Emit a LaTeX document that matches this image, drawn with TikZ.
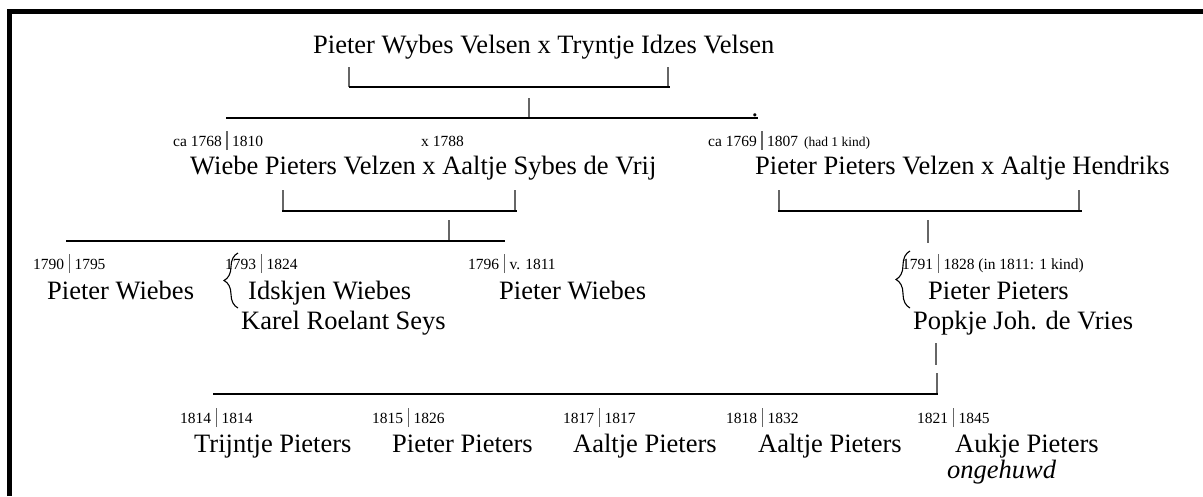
\documentclass[tikz,border=0pt]{standalone}
\usepackage{fontspec}
\setmainfont{Liberation Serif}
\usetikzlibrary{decorations.pathreplacing}

\definecolor{streepgrijs}{gray}{0.4}
% jaartallen met een staand streepje ertussen
\newcommand{\jaren}[2]{#1\hspace{4.5pt}\textcolor{streepgrijs}{\vrule width 1.3pt height 15pt depth 4pt}\hspace{4.5pt}#2}

\tikzset{
  naam/.style={anchor=base west, inner sep=0pt, font=\fontsize{26.5}{30}\selectfont},
  jaar/.style={anchor=base west, inner sep=0pt, font=\fontsize{15.5}{18}\selectfont},
  lijn/.style={line width=2.6pt},
  haakje/.style={streepgrijs, line width=1.3pt},
  accolade/.style={decorate, decoration={brace, amplitude=14pt}, line width=1.1pt},
}

\begin{document}
\begin{tikzpicture}[x=1pt, y=-1pt]

        \useasboundingbox (0,0) rectangle (1203,496);
        \draw[line width=5pt] (9.5,496) -- (9.5,11.5) -- (1203,11.5);

        % Stamouders
        \node[naam] (stam) at (313,53) {Pieter Wybes Velsen x Tryntje Idzes Velsen};
        \draw[haakje] (349,67) -- (349,87);
        \draw[haakje] (668,67) -- (668,87);
        \draw[lijn] (349,87) -- (670,87);
        \draw[haakje] (529,98) -- (529,118);
        \draw[lijn] (226,118) -- (758,118);
        \node[anchor=base, inner sep=0pt, font=\fontsize{26.5}{30}\selectfont] (punt) at (755,116) {.};

        % Tweede generatie
        \node[jaar] (wiebej) at (173,146) {\jaren{ca 1768}{1810}};
        \node[jaar] (huwelijk) at (421,146) {x 1788};
        \node[jaar] (pieterj) at (708,146) {\jaren{ca 1769}{1807}\hspace{6pt}{\fontsize{13.5}{16}\selectfont(had 1 kind)}};
        \node[naam] (wiebe) at (190,174) {Wiebe Pieters Velzen x Aaltje Sybes de Vrij};
        \node[naam] (pieter) at (755,174) {Pieter Pieters Velzen x Aaltje Hendriks};

        \draw[haakje] (283,190) -- (283,211);
        \draw[haakje] (515,190) -- (515,211);
        \draw[lijn] (282,211) -- (517,211);
        \draw[haakje] (449,220) -- (449,241);
        \draw[lijn] (66,241) -- (505,241);

        \draw[haakje] (779,190) -- (779,211);
        \draw[haakje] (1079,190) -- (1079,211);
        \draw[lijn] (778,211) -- (1082,211);
        \draw[haakje] (928,220) -- (928,243);

        % Derde generatie
        \node[jaar] (k1j) at (33,269) {\jaren{1790}{1795}};
        \node[jaar] (k2j) at (225,269) {\jaren{1793}{1824}};
        \node[jaar] (k3j) at (468,269) {\jaren{1796}{v. 1811}};
        \node[jaar] (k4j) at (902,269) {\jaren{1791}{1828 (in 1811: 1 kind)}};

        \node[naam] (k1) at (47,299) {Pieter Wiebes};
        \node[naam] (k2) at (248,299) {Idskjen Wiebes};
        \node[naam] (k2p) at (241,329) {Karel Roelant Seys};
        \node[naam] (k3) at (499,299) {Pieter Wiebes};
        \node[naam] (k4) at (928,299) {Pieter Pieters};
        \node[naam] (k4p) at (913,329) {Popkje Joh. de Vries};

        \draw[accolade] (238,308) -- (238,253);
        \draw[accolade] (910,308) -- (910,251);

        \draw[haakje] (936,343) -- (936,365);
        \draw[haakje] (937,373) -- (937,394);
        \draw[lijn] (213,394) -- (938,394);

        % Vierde generatie
        \node[jaar] (l1j) at (180,423) {\jaren{1814}{1814}};
        \node[jaar] (l2j) at (372,423) {\jaren{1815}{1826}};
        \node[jaar] (l3j) at (563,423) {\jaren{1817}{1817}};
        \node[jaar] (l4j) at (726,423) {\jaren{1818}{1832}};
        \node[jaar] (l5j) at (917,423) {\jaren{1821}{1845}};

        \node[naam] (l1) at (194,452) {Trijntje Pieters};
        \node[naam] (l2) at (392,452) {Pieter Pieters};
        \node[naam] (l3) at (573,452) {Aaltje Pieters};
        \node[naam] (l4) at (758,452) {Aaltje Pieters};
        \node[naam] (l5) at (955,452) {Aukje Pieters};
        \node[naam, font=\fontsize{26.5}{30}\selectfont\itshape] (l5s) at (947,478) {ongehuwd};

\end{tikzpicture}
\end{document}
